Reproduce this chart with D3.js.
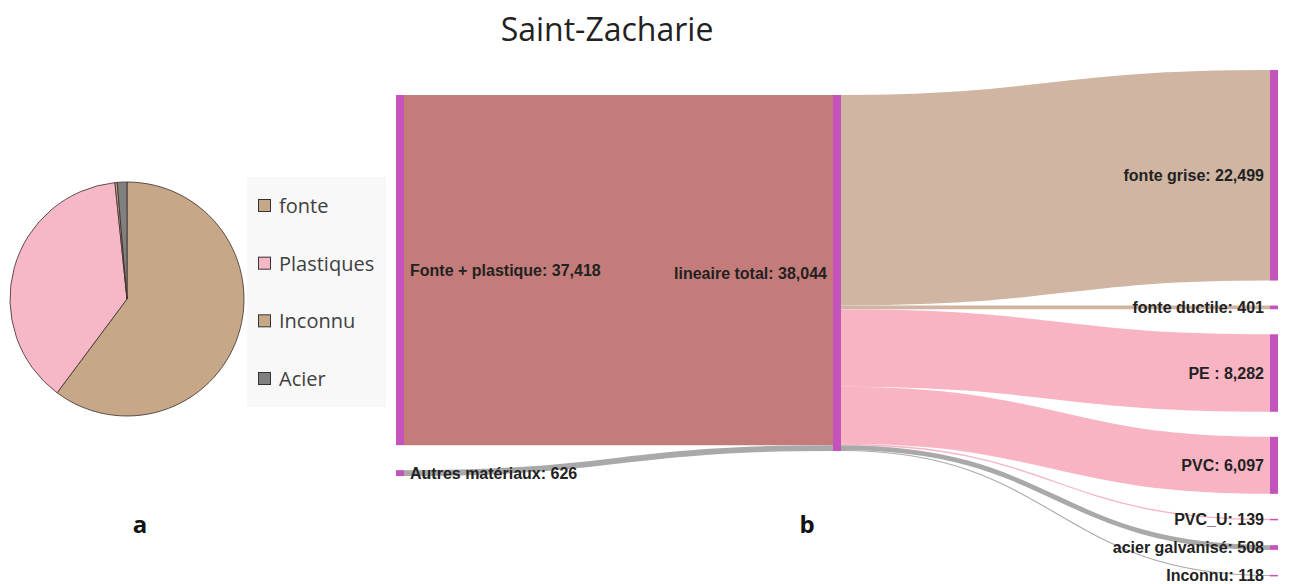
<!DOCTYPE html>
<html>
<head>
<meta charset="utf-8">
<script src="https://cdn.jsdelivr.net/npm/d3@7"></script>
<style>
  body { margin: 0; background: #fff; }
  svg { display: block; }
</style>
</head>
<body>
<div id="wrapper"></div>
<script>
// pie data (a)
const pieCategories = ["fonte", "Plastiques", "Inconnu", "Acier"];
const pieValues = [22900, 14518, 118, 508];

// sankey data (b)
const nodeNames = ["Fonte + plastique", "Autres matériaux", "lineaire total",
  "fonte grise", "fonte ductile", "PE ", "PVC", "PVC_U", "acier galvanisé", "Inconnu"];
const nodeColumns = [0, 0, 1, 2, 2, 2, 2, 2, 2, 2];
const linkSources = [0, 1, 2, 2, 2, 2, 2, 2, 2];
const linkTargets = [2, 2, 3, 4, 5, 6, 7, 8, 9];
const linkValues = [37418, 626, 22499, 401, 8282, 6097, 139, 508, 118];
const linkGroups = ["fp", "autres", "fonte", "fonte", "plast", "plast", "plast", "autres", "autres"];

const pieColors = { fonte: "#c6a788", Plastiques: "#f6b7c6", Inconnu: "#c6a788", Acier: "#808080" };
const linkColors = { fp: "#c47c7b", fonte: "#cfb5a2", plast: "#f8b4c3", autres: "#a9a9a9" };
const nodeColor = "#c454bc";

const width = 1290, height = 584;
const svg = d3.select("#wrapper").append("svg")
  .attr("width", width).attr("height", height);

// title
svg.append("text")
  .attr("x", 607).attr("y", 41)
  .attr("text-anchor", "middle")
  .style("font-family", "'Open Sans', sans-serif")
  .style("font-size", "32px")
  .attr("fill", "#222")
  .text("Saint-Zacharie");

// ---------- PIE ----------
const pieG = svg.append("g").attr("transform", "translate(127,299)");
const pie = d3.pie().sort(null).value((d, i) => pieValues[i]);
const arc = d3.arc().innerRadius(0).outerRadius(117);
pieG.selectAll("path")
  .data(pie(pieCategories))
  .join("path")
  .attr("d", arc)
  .attr("fill", d => pieColors[d.data])
  .attr("stroke", "#3b2b2b")
  .attr("stroke-width", 0.8);

// legend
const legend = svg.append("g");
legend.append("rect")
  .attr("x", 247).attr("y", 177).attr("width", 139).attr("height", 230)
  .attr("fill", "#f8f8f8");
const legendY = d3.scalePoint().domain(pieCategories).range([206, 379]);
const items = legend.selectAll("g.item").data(pieCategories).join("g")
  .attr("transform", d => `translate(258,${legendY(d)})`);
items.append("rect")
  .attr("x", 0.5).attr("y", -6.5).attr("width", 12).attr("height", 12)
  .attr("fill", d => pieColors[d]).attr("stroke", "#333").attr("stroke-width", 1);
items.append("text")
  .attr("x", 21).attr("dy", "0.35em")
  .style("font-family", "'Open Sans', sans-serif")
  .style("font-size", "20px")
  .attr("fill", "#404040")
  .text(d => d);

// panel letters
svg.append("text").attr("x", 140).attr("y", 533).attr("text-anchor", "middle")
  .style("font-family", "'Open Sans', sans-serif").style("font-size", "24px")
  .style("font-weight", "bold").attr("fill", "#111").text("a");
svg.append("text").attr("x", 807).attr("y", 533).attr("text-anchor", "middle")
  .style("font-family", "'Open Sans', sans-serif").style("font-size", "24px")
  .style("font-weight", "bold").attr("fill", "#111").text("b");

// ---------- SANKEY (manual layout) ----------
const nodeWidth = 8, nodePadding = 25;
const columnTops = [95, 95, 70];
const xScale = d3.scaleLinear().domain([0, 2]).range([396, 1270]);
const total = d3.sum(linkValues.filter((v, i) => linkTargets[i] === 2));
const ky = d3.scaleLinear().domain([0, total]).range([0, 356]);

const nodes = nodeNames.map((name, i) => ({ name, i, col: nodeColumns[i] }));
const links = linkValues.map((v, i) => ({
  source: nodes[linkSources[i]], target: nodes[linkTargets[i]], value: v, group: linkGroups[i]
}));
nodes.forEach(n => {
  const vin = d3.sum(links.filter(l => l.target === n), l => l.value);
  const vout = d3.sum(links.filter(l => l.source === n), l => l.value);
  n.value = Math.max(vin, vout);
  n.x0 = xScale(n.col);
  n.x1 = n.x0 + nodeWidth;
});
[0, 1, 2].forEach(c => {
  let y = columnTops[c];
  nodes.filter(n => n.col === c).forEach(n => {
    n.y0 = y;
    n.y1 = y + ky(n.value);
    y = n.y1 + nodePadding;
  });
});
nodes.forEach(n => {
  let sy = n.y0;
  links.filter(l => l.source === n).sort((a, b) => a.target.y0 - b.target.y0)
    .forEach(l => { l.ys = sy + ky(l.value) / 2; sy += ky(l.value); });
  let ty = n.y0;
  links.filter(l => l.target === n).sort((a, b) => a.source.y0 - b.source.y0)
    .forEach(l => { l.yt = ty + ky(l.value) / 2; ty += ky(l.value); });
});

const linkPath = d3.linkHorizontal();
svg.append("g").attr("fill", "none")
  .selectAll("path").data(links).join("path")
  .attr("d", l => linkPath({ source: [l.source.x1, l.ys], target: [l.target.x0, l.yt] }))
  .attr("stroke", l => linkColors[l.group])
  .attr("stroke-width", l => Math.max(1, ky(l.value)));

svg.append("g").selectAll("rect").data(nodes).join("rect")
  .attr("x", n => n.x0).attr("y", n => n.y0)
  .attr("width", nodeWidth).attr("height", n => Math.max(1.5, n.y1 - n.y0))
  .attr("fill", nodeColor);

const fmt = d3.format(",");
svg.append("g").selectAll("text").data(nodes).join("text")
  .attr("x", n => n.x0 > width / 2 ? n.x0 - 6 : n.x1 + 6)
  .attr("y", n => (n.y0 + n.y1) / 2)
  .attr("dy", "0.35em")
  .attr("text-anchor", n => n.x0 > width / 2 ? "end" : "start")
  .style("font-family", "'Liberation Sans', Arial, sans-serif")
  .style("font-size", "16px")
  .style("font-weight", "bold")
  .attr("fill", "#222")
  .text(n => `${n.name}: ${fmt(n.value)}`);
</script>
</body>
</html>
